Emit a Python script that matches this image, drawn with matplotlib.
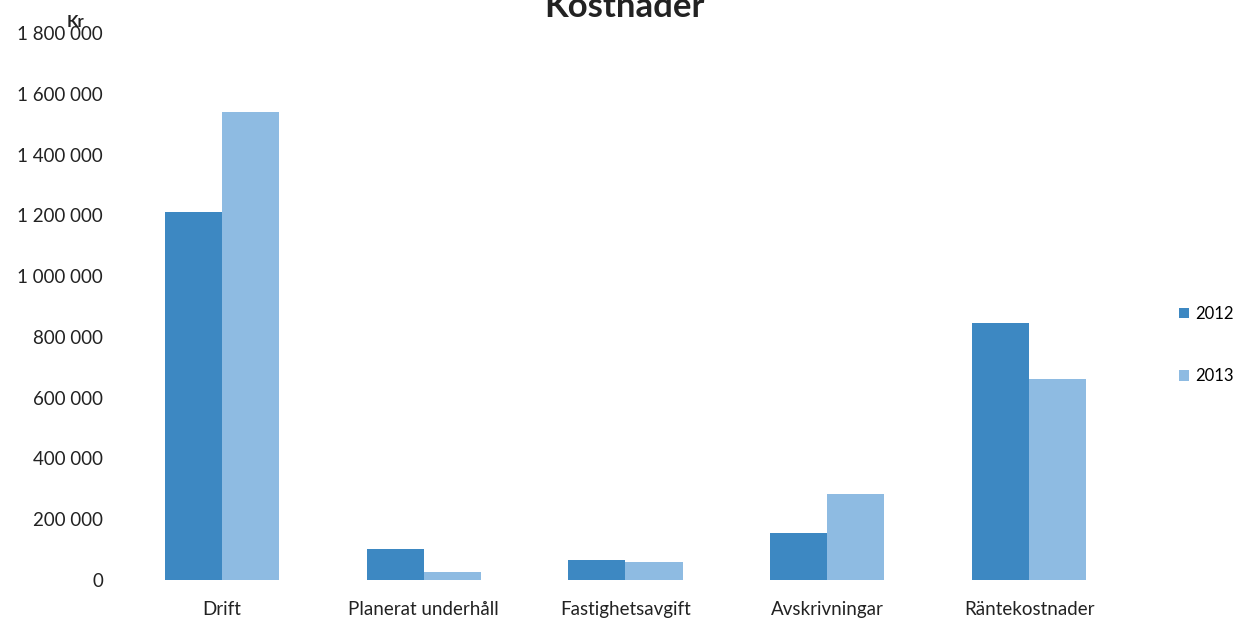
import numpy as np
import matplotlib.pyplot as plt
from matplotlib.ticker import FuncFormatter

plt.rcParams['font.family'] = ['Lato', 'DejaVu Sans']

categories = ["Drift", "Planerat underhåll", "Fastighetsavgift", "Avskrivningar", "Räntekostnader"]
years = ["2012", "2013"]
values_2012 = [1210000, 102000, 66000, 155000, 845000]
values_2013 = [1540000, 26000, 59000, 283000, 661000]

colors = ["#3d88c2", "#8ebbe2"]

fig = plt.figure(figsize=(12.37, 6.24), dpi=100)
ax = fig.add_axes([0.0978, 0.0705, 0.8157, 0.8765])

x = np.arange(len(categories))
w = 0.283
ax.bar(x - w / 2, values_2012, w, color=colors[0], label=years[0])
ax.bar(x + w / 2, values_2013, w, color=colors[1], label=years[1])

ax.set_xlim(-0.5, len(categories) - 0.5)
ax.set_ylim(0, 1800000)
ax.set_yticks(np.arange(0, 1800001, 200000))
ax.yaxis.set_major_formatter(FuncFormatter(lambda v, p: f"{int(v):,}".replace(",", " ")))
ax.set_xticks(x)
ax.set_xticklabels(categories)
ax.tick_params(axis='both', length=0, labelsize=13.5, colors="#222222")
ax.tick_params(axis='y', pad=13)
ax.tick_params(axis='x', pad=15)
for s in ax.spines.values():
    s.set_visible(False)

# titel sitter delvis utanfor bilden i originalet
fig.text(0.505, 0.988, "Kostnader", ha="center", va="center", fontsize=25, fontweight="bold", color="#222222")
fig.text(0.061, 0.965, "Kr", ha="center", va="center", fontsize=12, fontweight="bold", color="#222222")

leg = ax.legend(loc="center left", bbox_to_anchor=(0.941, 0.447), frameon=False,
                fontsize=12, handlelength=0.6, handleheight=0.6, labelspacing=2.8, handletextpad=0.4,
                bbox_transform=fig.transFigure)

fig.savefig("out.png", dpi=100)
